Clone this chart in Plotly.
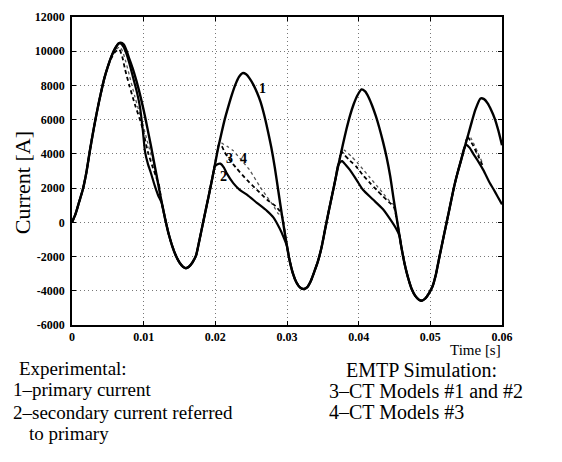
import plotly.graph_objects as go

# ---- Curve 1: primary current ----
t_primary = [0, 0.0005, 0.001, 0.0015, 0.002, 0.0025, 0.003, 0.0035, 0.004, 0.0045, 0.005, 0.0055,
             0.006, 0.0065, 0.0068, 0.0072, 0.0076, 0.008, 0.0085, 0.009, 0.0095, 0.01, 0.0105,
             0.011, 0.0115, 0.012, 0.0125, 0.013, 0.0135, 0.014, 0.0145, 0.015, 0.0155, 0.0159,
             0.0163, 0.0168, 0.0173, 0.0178, 0.0183, 0.0188, 0.0193, 0.0198, 0.0203, 0.0208,
             0.0213, 0.0218, 0.0223, 0.0228, 0.0233, 0.0238, 0.0243, 0.0248, 0.0253, 0.0258,
             0.0263, 0.0268, 0.0273, 0.0278, 0.0283, 0.0288, 0.0293, 0.0298, 0.0303, 0.0308,
             0.0313, 0.0318, 0.0323, 0.0328, 0.0333, 0.0338, 0.0343, 0.0348, 0.0353, 0.0358,
             0.0363, 0.0368, 0.0373, 0.0378, 0.0383, 0.0388, 0.0393, 0.0398, 0.0404, 0.0409,
             0.0414, 0.0419, 0.0424, 0.0429, 0.0434, 0.0439, 0.0444, 0.0449, 0.0454, 0.0459,
             0.0464, 0.0469, 0.0474, 0.0479, 0.0484, 0.0488, 0.0493, 0.0498, 0.0503, 0.0508,
             0.0513, 0.0518, 0.0523, 0.0528, 0.0533, 0.0538, 0.0543, 0.0548, 0.0553, 0.0558,
             0.0563, 0.057, 0.0575, 0.058, 0.0585, 0.059, 0.0595, 0.06]
i_primary = [0, 500, 1200, 1900, 2900, 4200, 5400, 6500, 7500, 8400, 9100, 9700,
             10150, 10450, 10500, 10400, 10050, 9550, 8950, 8250, 7450, 6550, 5550,
             4500, 3400, 2300, 1200, 200, -700, -1400, -1950, -2350, -2600, -2680,
             -2600, -2350, -1950, -1000, 0, 1000, 2000, 3050, 4150, 5100,
             6000, 6750, 7450, 8050, 8500, 8720, 8650, 8400, 8050, 7600,
             7050, 6300, 5400, 4400, 3200, 1800, 400, -900, -2100, -2950,
             -3500, -3800, -3900, -3800, -3450, -2900, -2300, -1500, -450, 600,
             1600, 2600, 3600, 4550, 5450, 6250, 6900, 7400, 7770, 7650,
             7300, 6800, 6200, 5500, 4700, 3800, 2700, 1300, 0, -1300,
             -2400, -3250, -3900, -4300, -4520, -4580, -4450, -4150, -3750, -3000,
             -1950, -950, 50, 1050, 2050, 2900, 3650, 4400, 5150, 5900,
             6600, 7240, 7200, 6950, 6550, 6050, 5350, 4500]

# ---- Curve 2: secondary current referred to primary (where it leaves curve 1) ----
sec_seg_t = [
    [0.0068, 0.0072, 0.0076, 0.008, 0.0085, 0.009, 0.0095, 0.0099, 0.0102, 0.0106, 0.011, 0.0115, 0.012, 0.0125],
    [0.0199, 0.0203, 0.0207, 0.0212, 0.0216, 0.0225, 0.0234, 0.0244, 0.0258, 0.0272, 0.0281, 0.029, 0.0295, 0.03],
    [0.0371, 0.03745, 0.0377, 0.0382, 0.0388, 0.0397, 0.0406, 0.042, 0.0434, 0.0446, 0.0452, 0.0457],
    [0.0547, 0.055, 0.0555, 0.056, 0.0567, 0.0574, 0.0583, 0.0588, 0.0594, 0.06],
]
sec_seg_i = [
    [10450, 10250, 9850, 9300, 8500, 7700, 6700, 5300, 4100, 3400, 2900, 2200, 1600, 1150],
    [3250, 3400, 3430, 3200, 2860, 2290, 1900, 1620, 1140, 670, 290, -380, -850, -1400],
    [3300, 3530, 3580, 3350, 3050, 2480, 1900, 1330, 760, 50, -350, -800],
    [4300, 4530, 4350, 4000, 3550, 3050, 2300, 1950, 1500, 1050],
]

# ---- Curve 3: EMTP, CT models #1 and #2 (dashed) ----
m12_seg_t = [
    [0.0055, 0.006, 0.0066, 0.007, 0.0074, 0.008, 0.0088, 0.0097, 0.0106, 0.0112, 0.0117, 0.0121],
    [0.0202, 0.0205, 0.0209, 0.0213, 0.022, 0.023, 0.0244, 0.0258, 0.0272, 0.0284, 0.029],
    [0.0373, 0.0376, 0.038, 0.0388, 0.0397, 0.0406, 0.0416, 0.0425, 0.0434, 0.0442, 0.0449],
    [0.0548, 0.0552, 0.0556, 0.056, 0.0567, 0.0574],
]
m12_seg_i = [
    [9600, 9950, 10100, 9700, 8950, 8000, 6860, 5710, 4100, 3300, 2700, 2250],
    [4000, 4560, 4450, 4100, 3650, 3140, 2480, 1900, 1330, 950, 650],
    [3600, 4150, 3950, 3600, 3240, 2750, 2290, 1900, 1520, 1200, 900],
    [4400, 5000, 4750, 4470, 3850, 3240],
]

# ---- Curve 4: EMTP, CT model #3 (dotted) ----
m3_seg_t = [
    [0.006, 0.0067, 0.0071, 0.0075, 0.008, 0.0088, 0.0097, 0.0106, 0.0112, 0.0118],
    [0.0203, 0.0206, 0.0212, 0.0218, 0.0225, 0.0236, 0.0248, 0.0262, 0.0272, 0.0282, 0.0288],
    [0.0374, 0.0377, 0.0382, 0.039, 0.0398, 0.0406, 0.0415, 0.0425, 0.0435, 0.0443, 0.0449],
    [0.0549, 0.0553, 0.0557, 0.056, 0.0566, 0.0573],
]
m3_seg_i = [
    [10050, 10250, 9950, 9400, 8600, 7300, 6000, 4600, 3700, 2800],
    [4150, 4700, 4550, 4400, 4190, 3650, 3050, 2100, 1500, 900, 500],
    [3800, 4300, 4150, 3850, 3500, 3100, 2650, 2150, 1650, 1250, 1000],
    [4550, 5100, 4900, 4650, 4100, 3450],
]

x_ticks = [0, 0.01, 0.02, 0.03, 0.04, 0.05, 0.06]
x_tick_text = ["0", "0.01", "0.02", "0.03", "0.04", "0.05", "0.06"]
y_ticks = [-6000, -4000, -2000, 0, 2000, 4000, 6000, 8000, 10000, 12000]
y_tick_text = ["-6000", "-4000", "-2000", "0", "2000", "4000", "6000", "8000", "10000", "12000"]


def splice(seg_t, seg_i, stop_at_last=False):
    """Curve = primary where it overlaps, and the read segments where it departs."""
    ts, vs = [], []
    prev_end = -1.0
    for st, si in zip(seg_t, seg_i):
        for t, v in zip(t_primary, i_primary):
            if prev_end < t < st[0]:
                ts.append(t)
                vs.append(v)
        ts += st
        vs += si
        prev_end = st[-1]
    if not stop_at_last:
        for t, v in zip(t_primary, i_primary):
            if t > prev_end:
                ts.append(t)
                vs.append(v)
    return ts, vs


t2, i2 = splice(sec_seg_t, sec_seg_i)
t3, i3 = splice(m12_seg_t, m12_seg_i, stop_at_last=True)
t4, i4 = splice(m3_seg_t, m3_seg_i, stop_at_last=True)

SERIF = "Liberation Serif, Times New Roman, serif"

fig = go.Figure()
fig.add_trace(go.Scatter(x=t4, y=i4, mode="lines", line=dict(color="#555", width=1.3, dash="dot",
                                                            shape="spline", smoothing=0.6)))
fig.add_trace(go.Scatter(x=t3, y=i3, mode="lines", line=dict(color="black", width=1.8, dash="4px,3px",
                                                            shape="spline", smoothing=0.6)))
fig.add_trace(go.Scatter(x=t2, y=i2, mode="lines", line=dict(color="black", width=2.2,
                                                            shape="spline", smoothing=0.6)))
fig.add_trace(go.Scatter(x=t_primary, y=i_primary, mode="lines", line=dict(color="black", width=2.4,
                                                                          shape="spline", smoothing=0.6)))

# curve number labels
for txt, x, y in [("1", 0.0266, 7810), ("3", 0.0220, 3710), ("4", 0.0239, 3710), ("2", 0.0212, 2700)]:
    fig.add_annotation(x=x, y=y, text=f"<b>{txt}</b>", showarrow=False,
                       font=dict(family=SERIF, size=14, color="black"))


def paper_x(px):
    return (px - 72) / 430


def paper_y(py):
    return (325 - py) / 315


texts = [
    ("Time [s]", 449, 351, 15),
    ("Experimental:", 18, 369, 19),
    ("1–primary current", 12, 391, 19),
    ("2–secondary current referred", 12, 414, 19),
    ("to primary", 28, 436, 19),
    ("EMTP Simulation:", 345, 371, 20),
    ("3–CT Models #1 and #2", 328, 392, 20),
    ("4–CT Models #3", 328, 414, 20),
]
for txt, px, py, fs in texts:
    fig.add_annotation(xref="paper", yref="paper", x=paper_x(px), y=paper_y(py), text=txt,
                       showarrow=False, xanchor="left", yanchor="middle", borderpad=0,
                       font=dict(family=SERIF, size=fs, color="black"))

fig.add_annotation(xref="paper", yref="paper", x=paper_x(22), y=paper_y(180), text="Current [A]",
                   showarrow=False, textangle=-90, xanchor="center", yanchor="middle",
                   font=dict(family=SERIF, size=22, color="black"))

axis_common = dict(showgrid=True, gridcolor="#777", griddash="1px,3px", gridwidth=1,
                   zeroline=False, showline=True, linecolor="black", linewidth=1.6,
                   mirror="allticks", ticks="inside", ticklen=4, tickcolor="black",
                   tickfont=dict(family=SERIF, size=12, color="black"))

fig.update_xaxes(range=[0, 0.06], tickvals=x_ticks,
                 ticktext=[f"<b>{s}</b>" for s in x_tick_text], ticklabelstandoff=0, **axis_common)
fig.update_yaxes(range=[-6000, 12000], tickvals=y_ticks,
                 ticktext=[f"<b>{s}</b>" for s in y_tick_text], ticklabelstandoff=3, **axis_common)

fig.update_layout(width=562, height=462, showlegend=False,
                  margin=dict(l=72, r=60, t=10, b=137),
                  paper_bgcolor="white", plot_bgcolor="white")

fig.write_html("out.html")
